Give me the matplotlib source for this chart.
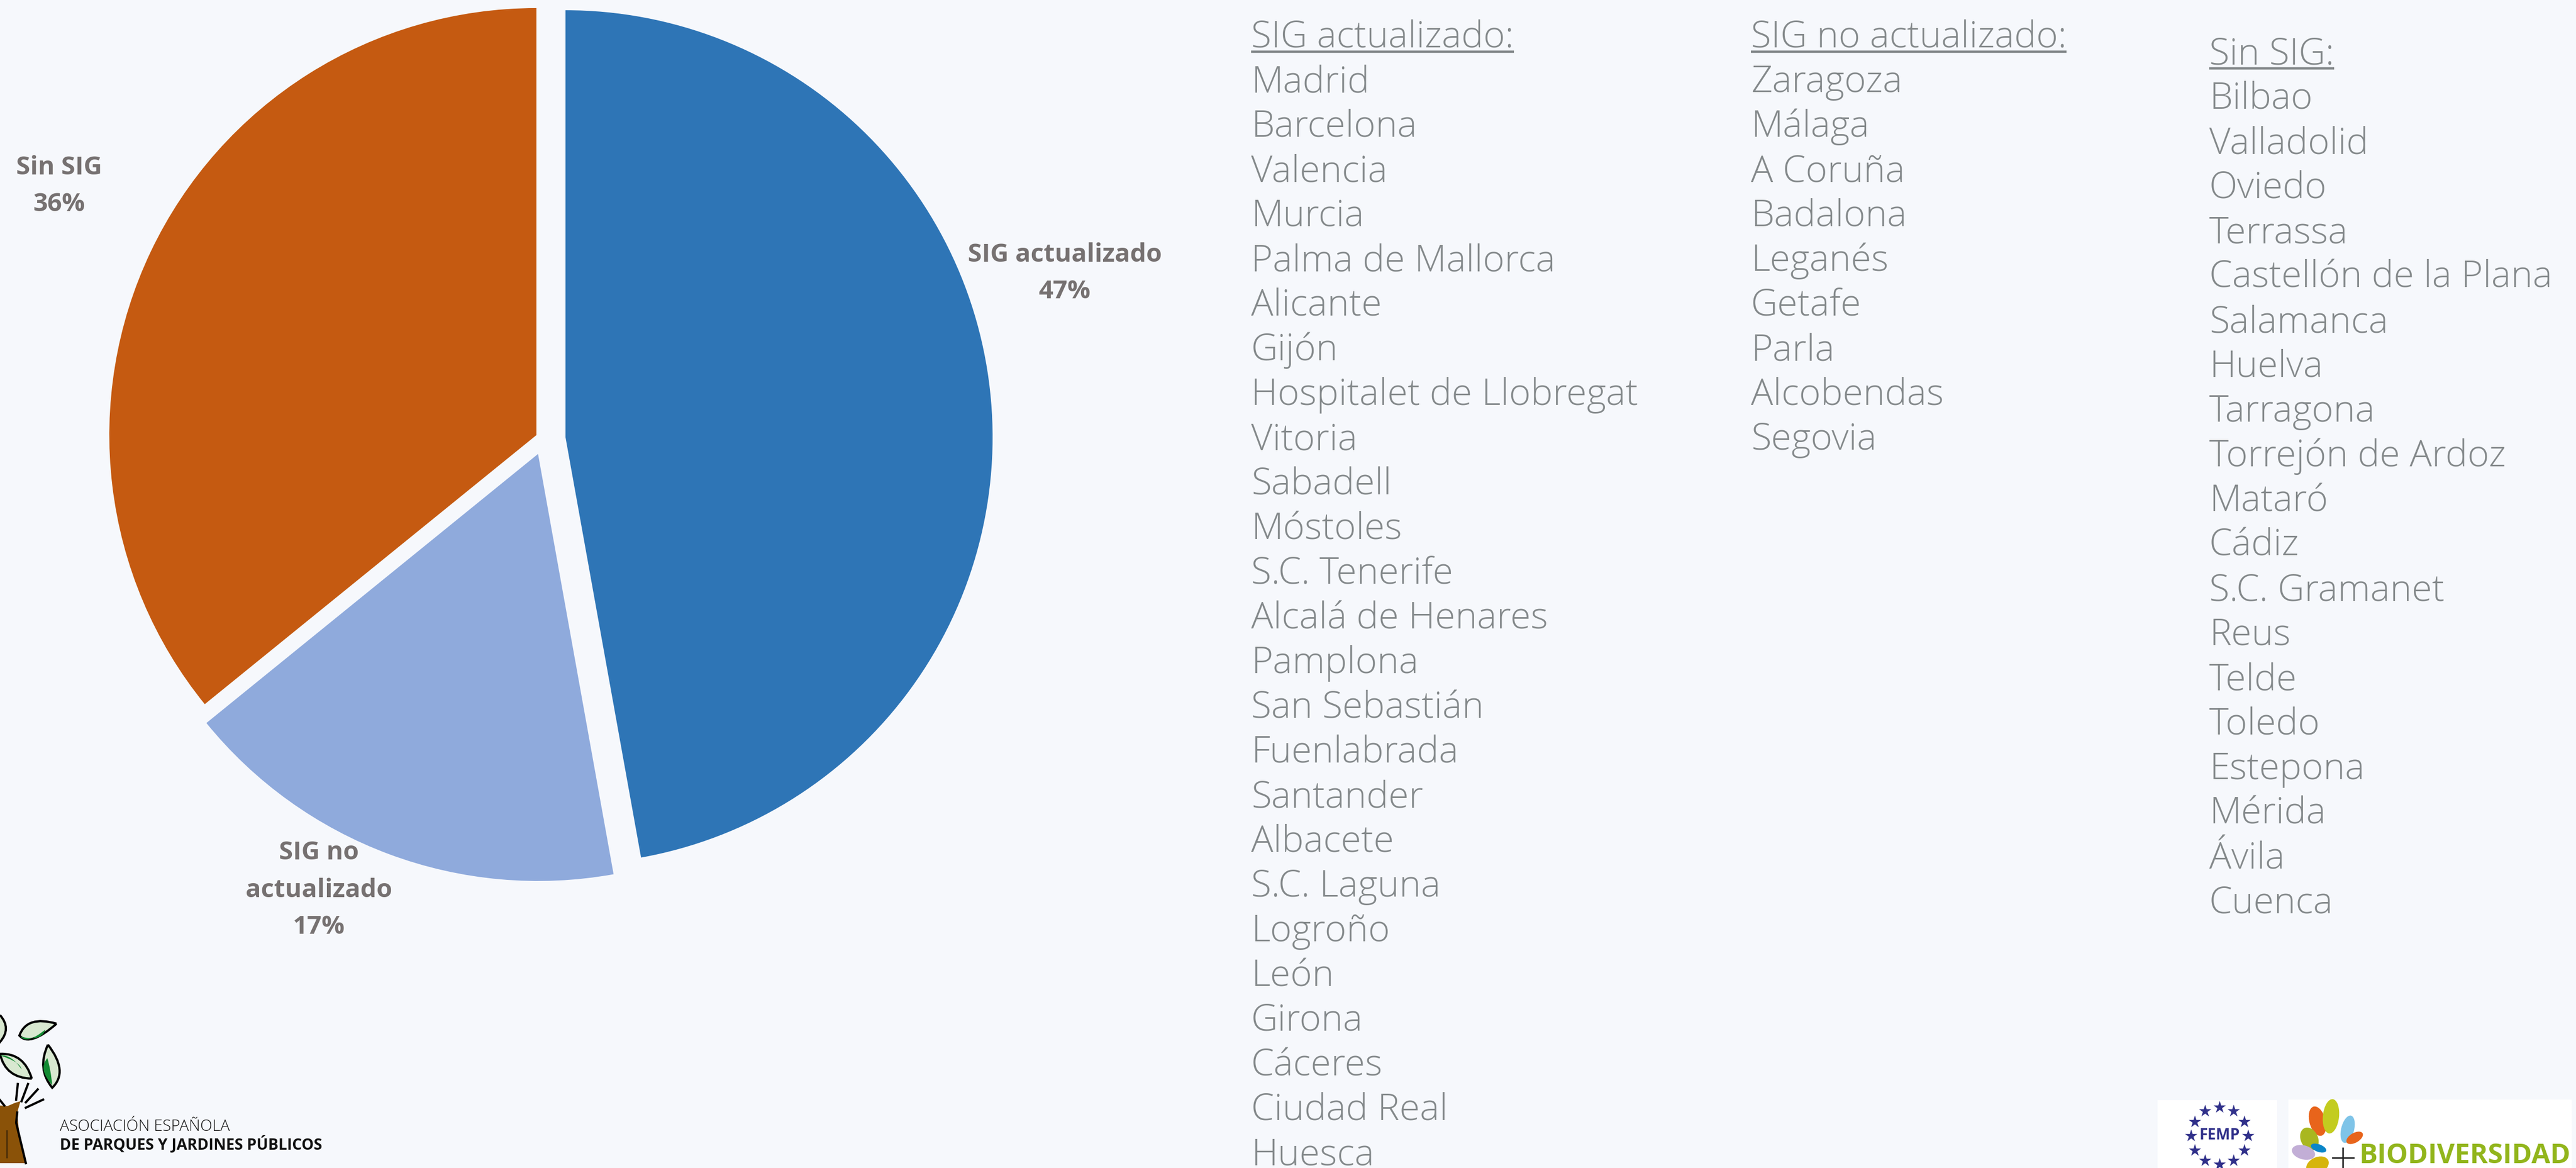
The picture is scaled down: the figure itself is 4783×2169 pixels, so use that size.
import matplotlib
matplotlib.use('Agg')
import matplotlib.pyplot as plt
from matplotlib.patches import Ellipse, Polygon, Rectangle, PathPatch
from matplotlib.path import Path
import numpy as np

W, H = 4783, 2169

plt.rcParams['font.family'] = ['Open Sans', 'DejaVu Sans']

# city lists
sig_actualizado = ['Madrid', 'Barcelona', 'Valencia', 'Murcia', 'Palma de Mallorca', 'Alicante', 'Gijón',
                   'Hospitalet de Llobregat', 'Vitoria', 'Sabadell', 'Móstoles', 'S.C. Tenerife',
                   'Alcalá de Henares', 'Pamplona', 'San Sebastián', 'Fuenlabrada', 'Santander', 'Albacete',
                   'S.C. Laguna', 'Logroño', 'León', 'Girona', 'Cáceres', 'Ciudad Real', 'Huesca']
sig_no_actualizado = ['Zaragoza', 'Málaga', 'A Coruña', 'Badalona', 'Leganés', 'Getafe', 'Parla', 'Alcobendas',
                      'Segovia']
sin_sig = ['Bilbao', 'Valladolid', 'Oviedo', 'Terrassa', 'Castellón de la Plana', 'Salamanca', 'Huelva',
           'Tarragona', 'Torrejón de Ardoz', 'Mataró', 'Cádiz', 'S.C. Gramanet', 'Reus', 'Telde', 'Toledo',
           'Estepona', 'Mérida', 'Ávila', 'Cuenca']

# pie values (47%, 17%, 36%)
categories = ['SIG actualizado', 'SIG no actualizado', 'Sin SIG']
counts = [25, 9, 19]
percent_labels = ['47%', '17%', '36%']
colors = ['#2e75b6', '#8faadc', '#c55a11']

bg = '#f6f8fc'
text_grey = '#84898b'
label_grey = '#767171'

fig = plt.figure(figsize=(W / 100, H / 100), dpi=100, facecolor=bg)

# pie axes, square in pixels
cx, cy, R = 1022, 817, 793
half = 1.25 * R
pie_ax = fig.add_axes([(cx - half) / W, (H - cy - half) / H, 2 * half / W, 2 * half / H])
wedges, _ = pie_ax.pie(counts, colors=colors, startangle=90, counterclock=False, radius=1)
pie_ax.set_xlim(-1.25, 1.25)
pie_ax.set_ylim(-1.25, 1.25)
# the slices are pulled out by hand in the original, not evenly
for w, (ax_px, ay_px) in zip(wedges, [(1050, 812), (999, 843), (996, 808)]):
    w.set_center(((ax_px - cx) / R, (cy - ay_px) / R))

# overlay in pixel coordinates
ax = fig.add_axes([0, 0, 1, 1])
ax.set_xlim(0, W)
ax.set_ylim(H, 0)
ax.axis('off')
ax.patch.set_alpha(0)


def data_label(x, y, txt):
    ax.text(x, y, txt, color=label_grey, fontsize=34, fontweight='bold', ha='center', va='center')


data_label(1977, 474, categories[0])
data_label(1977, 541, percent_labels[0])
data_label(592, 1584, 'SIG no')
data_label(592, 1653, 'actualizado')
data_label(592, 1721, percent_labels[1])
data_label(110, 312, categories[2])
data_label(110, 379, percent_labels[2])


def city_column(x, y0, title, names):
    t = ax.text(x, y0, title, color=text_grey, fontsize=49.4, fontweight='light', va='baseline')
    fig.canvas.draw()
    box = t.get_window_extent()
    ax.plot([x, x + box.width], [y0 + 8, y0 + 8], color=text_grey, lw=3.2, solid_capstyle='butt')
    for i, name in enumerate(names):
        ax.text(x, y0 + 83 * (i + 1), name, color=text_grey, fontsize=49.4, fontweight='light', va='baseline')


city_column(2323, 88, 'SIG actualizado:', sig_actualizado)
city_column(3251, 88, 'SIG no actualizado:', sig_no_actualizado)
city_column(4102, 119, 'Sin SIG:', sin_sig)


def leaf(p0, p1, bulge_a, bulge_b, fc, ec='none', lw=0):
    # lens shape between two tips, bulges are the two control points
    verts = [p0, bulge_a, p1, bulge_b, p0]
    codes = [Path.MOVETO, Path.CURVE3, Path.CURVE3, Path.CURVE3, Path.CURVE3]
    ax.add_patch(PathPatch(Path(verts, codes), fc=fc, ec=ec, lw=lw))


def fit_width(t, width):
    # no condensed font here, so scale the text down to the logo's width
    fig.canvas.draw()
    t.set_fontsize(t.get_fontsize() * width / t.get_window_extent().width)


# tree logo
ax.add_patch(Polygon([(0, 2053), (14, 2054), (28, 2048), (38, 2045), (32, 2066), (36, 2110), (48, 2160), (0, 2160)],
                     closed=True, fc='#8a5208', ec='none'))
ax.plot([32, 30, 36, 48], [2066, 2085, 2110, 2160], color='black', lw=3)
ax.plot([13, 13], [2100, 2150], color='#3a2508', lw=1.5)
leaf_light = '#d8e8d0'
leaf_dark = '#128a32'
leaf((0, 1885), (0, 1935), (22, 1910), (-20, 1910), leaf_light, 'black', 3)
leaf((105, 1901), (36, 1923), (50, 1885), (55, 1945), leaf_light, 'black', 3)
leaf((38, 1925), (84, 1912), (50, 1940), (78, 1935), leaf_dark)
leaf((59, 2003), (0, 1957), (10, 2002), (45, 1955), leaf_light, 'black', 3)
leaf((0, 1960), (40, 1986), (22, 1958), (38, 1972), leaf_dark)
leaf((89, 1940), (97, 2020), (128, 1990), (68, 1985), leaf_light, 'black', 3)
leaf((88, 1965), (97, 2015), (70, 1985), (94, 1985), leaf_dark)
for x0, y0, x1, y1 in [(33, 2013, 30, 2042), (52, 2013, 40, 2045), (70, 2023, 48, 2047), (80, 2042, 48, 2057),
                       (0, 2043, 8, 2053)]:
    ax.plot([x0, x1], [y0, y1], color='black', lw=3)
ax.text(111, 2100, 'ASOCIACIÓN ESPAÑOLA', color='#111111', fontsize=21, va='baseline', fontweight='light')
ax.text(111, 2135, 'DE PARQUES Y JARDINES PÚBLICOS', color='#111111', fontsize=20.5, fontweight='bold',
        va='baseline')

# FEMP logo
ax.add_patch(Rectangle((4006, 2043), 222, 126, fc='white', ec='none'))
ang = np.deg2rad(np.arange(0, 360, 30))
ax.scatter(4121 + 53 * np.sin(ang), 2109 + 53 * np.cos(ang), marker='*', s=300, color='#30308a', lw=0)
femp = ax.text(4121, 2109, 'FEMP', color='#30308a', fontsize=24, fontweight='bold', ha='center', va='center')
fit_width(femp, 76)

# Biodiversidad logo
ax.add_patch(Rectangle((4249, 2042), 526, 127, fc='white', ec='none'))
for xc, yc, w, h, ang_l, col in [(4303, 2082, 30, 56, -15, '#e8641b'), (4328, 2073, 30, 64, 6, '#c3cc1f'),
                                 (4359, 2097, 24, 52, 14, '#7fc4e8'), (4372, 2113, 34, 18, -30, '#e8641b'),
                                 (4288, 2115, 32, 44, -25, '#a9b71f'), (4305, 2132, 30, 14, 20, '#0a86c8'),
                                 (4277, 2140, 44, 26, 15, '#c2aed6'), (4303, 2164, 44, 30, -25, '#d6b50c')]:
    ax.add_patch(Ellipse((xc, yc), w, h, angle=ang_l, fc=col, ec='none'))
ax.plot([4331, 4370], [2150, 2150], color='#222222', lw=2)
ax.plot([4350, 4350], [2132, 2169], color='#222222', lw=2)
bio = ax.text(4381, 2160, 'BIODIVERSIDAD', color='#92b51c', fontsize=30, fontweight='bold', va='baseline')
fit_width(bio, 392)

fig.savefig('out.png', dpi=100, facecolor=bg)
